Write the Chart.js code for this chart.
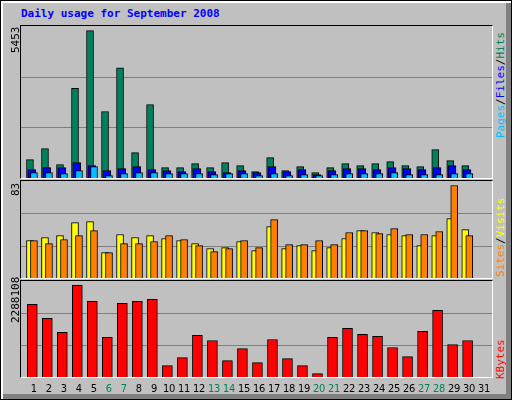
<!DOCTYPE html>
<html>
<head>
<meta charset="utf-8">
<script src="https://cdn.jsdelivr.net/npm/chart.js@4/dist/chart.umd.min.js"></script>
<style>
  body { margin: 0; background: #c0c0c0; }
  #frame { position: relative; width: 510px; height: 398px; background: #c0c0c0; border: 1px solid #000;
    box-shadow: inset 2px 2px 0 #fff, inset -5px -5px 0 #808080; overflow: hidden; }
  .title { position: absolute; left: 20px; top: 6px; font: bold 11px "DejaVu Sans Mono", monospace; color: #0000ff; }
  .panel { position: absolute; left: 19px; width: 471px; border-left: 1px solid #000; border-top: 1px solid #000;
    border-right: 1px solid #fff; border-bottom: 1px solid #fff; }
  .panel canvas { position: absolute; left: 0; top: 0; }
  .vlab { position: absolute; font: 11px "DejaVu Sans Mono", monospace; white-space: nowrap;
    transform-origin: left top; transform: rotate(-90deg); }
  .xlab { position: absolute; top: 381px; font: 11px "DejaVu Sans Condensed", "DejaVu Sans", sans-serif;
    letter-spacing: -0.3px; transform: translateX(-50%); }
</style>
</head>
<body>
<div id="frame">
  <div class="title">Daily usage for September 2008</div>
  <div class="panel" style="top:24px;height:152px"><canvas id="topChart"></canvas></div>
  <div class="panel" style="top:179px;height:97px"><canvas id="midChart"></canvas></div>
  <div class="panel" style="top:279px;height:96px"><canvas id="botChart"></canvas></div>
  <div class="vlab" style="left:8px;top:52px">5453</div>
  <div class="vlab" style="left:8px;top:195px">83</div>
  <div class="vlab" style="left:8px;top:322px">2288108</div>
  <div class="vlab" style="left:493px;top:137px"><span style="color:#00c0ff">Pages</span>/<span style="color:#0000ff">Files</span>/<span style="color:#00805c">Hits</span></div>
  <div class="vlab" style="left:493px;top:276px"><span style="color:#ff8000">Sites</span>/<span style="color:#ffff00">Visits</span></div>
  <div class="vlab" style="left:493px;top:378px;color:#ff0000">KBytes</div>
  <div id="xlabels"></div>
</div>
<script>
  const days = Array.from({ length: 31 }, (_, i) => i + 1)
  const weekendDays = [6, 7, 13, 14, 20, 21, 27, 28]

  const hits = [680, 1090, 495, 3313, 5453, 2460, 4080, 940, 2720, 383, 383, 530, 383, 570, 457, 235,
    755, 272, 420, 198, 383, 530, 457, 530, 605, 457, 420, 1050, 643, 457, 0]
  const files = [310, 383, 383, 570, 457, 272, 346, 420, 310, 272, 235, 346, 235, 198, 272, 198,
    420, 235, 310, 124, 272, 346, 346, 310, 383, 346, 310, 383, 457, 310, 0]
  const pages = [198, 198, 160, 272, 420, 86, 160, 198, 198, 160, 160, 160, 124, 160, 160, 86,
    160, 86, 124, 86, 124, 160, 160, 160, 198, 124, 124, 124, 160, 160, 0]
  const visits = [33.6, 36.3, 38, 49.7, 50.6, 22.8, 39, 36.3, 38, 35.4, 33.6, 30.9, 26.4, 27.3, 32.7, 24.6,
    46.1, 26.4, 29, 24.6, 27.3, 35.4, 42.5, 40.8, 39, 38, 29, 38, 53.3, 43.4, 0]
  const sites = [33.6, 30.9, 34.5, 38, 42.5, 22.8, 30.9, 30.9, 32.7, 38, 34.5, 29, 23.7, 26.4, 33.6, 27.3,
    52.4, 30, 30, 33.6, 30, 40.8, 42.5, 39.9, 44.3, 39, 39, 41.7, 83, 38, 0]
  const kbytes = [1812000, 1461000, 1111000, 2288108, 1887000, 985000, 1837000, 1887000, 1937000, 284000,
    484000, 1035000, 910000, 409000, 710000, 359000, 935000, 459000, 284000, 84000, 985000, 1211000,
    1061000, 1010000, 735000, 509000, 1136000, 1662000, 810000, 910000, 0]

  const X_MIN = 0.247
  const X_MAX = 31.626

  // draws thirds gridlines through the y scale
  const gridPlugin = {
    id: "thirds",
    beforeDatasetsDraw(chart) {
      const y = chart.scales.y
      const ctx = chart.ctx
      ctx.save()
      ctx.strokeStyle = "#808080"
      ctx.lineWidth = 1
      for (let k = 1; k <= 2; k++) {
        const py = Math.round(y.getPixelForValue(y.max * k / 3)) + 0.5
        ctx.beginPath()
        ctx.moveTo(chart.chartArea.left, py)
        ctx.lineTo(chart.chartArea.right, py)
        ctx.stroke()
      }
      ctx.restore()
    },
  }

  function series(values, offset, color, width, order) {
    return {
      data: values.map((v, i) => ({ x: days[i] + offset, y: v })),
      backgroundColor: color,
      borderColor: "#000",
      borderWidth: 1,
      borderSkipped: "bottom",
      barThickness: width,
      grouped: false,
      order: order,
    }
  }

  function makeChart(id, datasets, yMax) {
    return new Chart(document.getElementById(id), {
      type: "bar",
      data: { datasets },
      options: {
        responsive: false,
        animation: false,
        layout: { padding: 0 },
        scales: {
          x: { type: "linear", min: X_MIN, max: X_MAX, offset: false, display: false },
          y: { min: 0, max: yMax, display: false },
        },
        plugins: { legend: { display: false }, tooltip: { enabled: false } },
      },
      plugins: [gridPlugin],
    })
  }

  function sizeCanvas(id, w, h) {
    const c = document.getElementById(id)
    c.width = w
    c.height = h
    c.style.width = w + "px"
    c.style.height = h + "px"
  }
  sizeCanvas("topChart", 471, 152)
  sizeCanvas("midChart", 471, 97)
  sizeCanvas("botChart", 471, 96)

  makeChart("topChart", [
    series(pages, 0.11, "#00c0ff", 7, 1),
    series(files, -0.04, "#0000ff", 8, 2),
    series(hits, -0.155, "#00805c", 7, 3),
  ], 5623)

  makeChart("midChart", [
    series(sites, 0.11, "#ff8000", 7, 1),
    series(visits, -0.155, "#ffff00", 7, 2),
  ], 87)

  const bot = makeChart("botChart", [series(kbytes, 0, "#ff0000", 10, 1)], 2390900)

  // day labels placed with the bottom chart's x scale
  const xl = document.getElementById("xlabels")
  days.forEach((d) => {
    const el = document.createElement("div")
    el.className = "xlab"
    el.textContent = d
    el.style.left = (20 + bot.scales.x.getPixelForValue(d) + 1.5) + "px"
    el.style.color = weekendDays.includes(d) ? "#00805c" : "#000"
    xl.appendChild(el)
  })
</script>
</body>
</html>
